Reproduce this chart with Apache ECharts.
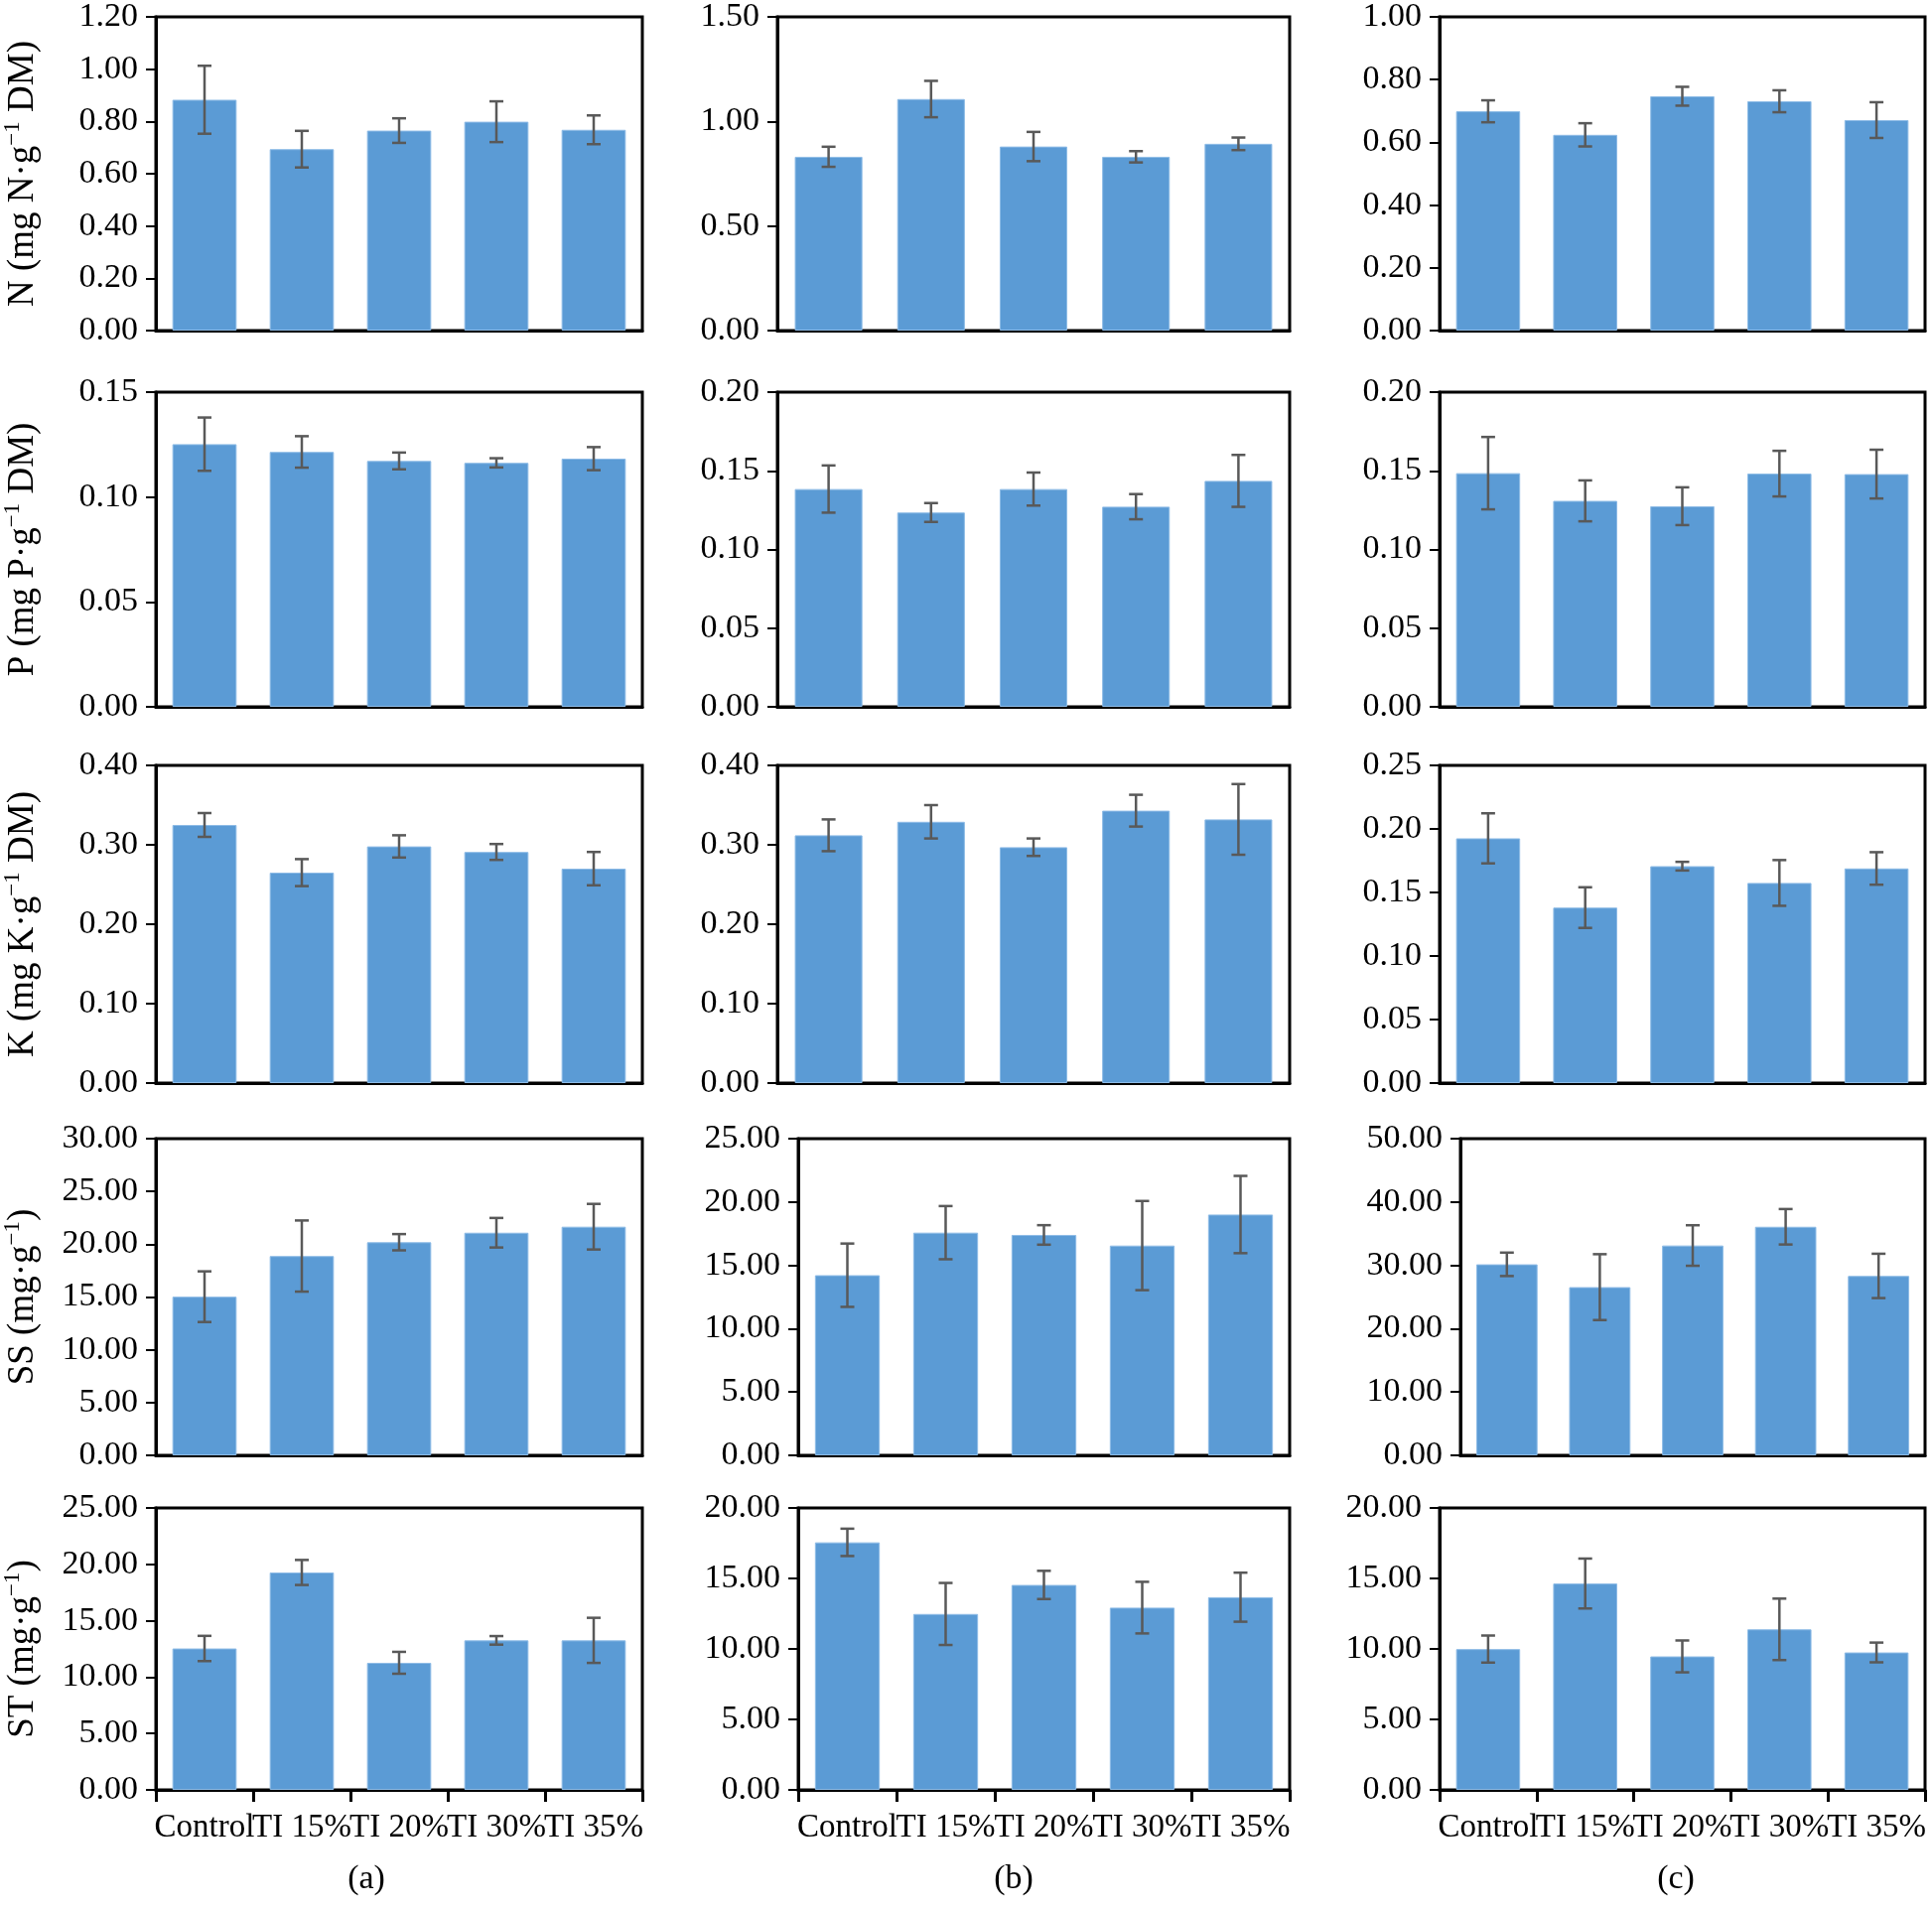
<!DOCTYPE html>
<html>
<head>
<meta charset="utf-8">
<script src="https://cdn.jsdelivr.net/npm/echarts@6/dist/echarts.min.js"></script>
<style>
  html, body { margin: 0; padding: 0; background: #fff; }
  #main { width: 1946px; height: 1926px; }
</style>
</head>
<body>
<div id="main"></div>
<script>
// treatments
const categories = ['Control', 'TI 15%', 'TI 20%', 'TI 30%', 'TI 35%'];

// (a)
const nMeanA = [0.883, 0.694, 0.765, 0.799, 0.768];
const nErrA = [0.130, 0.070, 0.047, 0.078, 0.055];
const pMeanA = [0.1252, 0.1215, 0.1172, 0.1163, 0.1183];
const pErrA = [0.0127, 0.0075, 0.0040, 0.0022, 0.0055];
const kMeanA = [0.325, 0.265, 0.298, 0.291, 0.270];
const kErrA = [0.015, 0.017, 0.014, 0.010, 0.021];
const ssMeanA = [15.03, 18.88, 20.19, 21.09, 21.66];
const ssErrA = [2.40, 3.37, 0.77, 1.40, 2.16];
const stMeanA = [12.54, 19.28, 11.27, 13.26, 13.26];
const stErrA = [1.12, 1.11, 0.97, 0.38, 2.00];

// (b)
const nMeanB = [0.831, 1.107, 0.880, 0.831, 0.893];
const nErrB = [0.048, 0.087, 0.070, 0.027, 0.030];
const pMeanB = [0.1384, 0.1235, 0.1384, 0.1272, 0.1436];
const pErrB = [0.0150, 0.0060, 0.0105, 0.0080, 0.0165];
const kMeanB = [0.312, 0.329, 0.297, 0.343, 0.332];
const kErrB = [0.020, 0.021, 0.011, 0.020, 0.0445];
const ssMeanB = [14.22, 17.58, 17.40, 16.56, 19.01];
const ssErrB = [2.50, 2.10, 0.77, 3.52, 3.05];
const stMeanB = [17.56, 12.48, 14.54, 12.93, 13.67];
const stErrB = [0.97, 2.20, 1.00, 1.83, 1.74];

// (c)
const nMeanC = [0.699, 0.624, 0.747, 0.731, 0.671];
const nErrC = [0.035, 0.037, 0.030, 0.035, 0.057];
const pMeanC = [0.1485, 0.1309, 0.1275, 0.1482, 0.1479];
const pErrC = [0.0230, 0.0130, 0.0120, 0.0145, 0.0155];
const kMeanC = [0.1926, 0.1381, 0.1707, 0.1575, 0.1689];
const kErrC = [0.0197, 0.0160, 0.0034, 0.0180, 0.0128];
const ssMeanC = [30.16, 26.56, 33.13, 36.09, 28.33];
const ssErrC = [1.85, 5.20, 3.20, 2.80, 3.50];
const stMeanC = [9.99, 14.64, 9.47, 11.39, 9.75];
const stErrC = [0.96, 1.77, 1.13, 2.18, 0.70];

// y axis ranges, per row: [a, b, c]
const yMax = [[1.2, 1.5, 1.0], [0.15, 0.2, 0.2], [0.4, 0.4, 0.25], [30, 25, 50], [25, 20, 20]];
const yStep = [[0.2, 0.5, 0.2], [0.05, 0.05, 0.05], [0.1, 0.1, 0.05], [5, 5, 10], [5, 5, 5]];

const yNames = [
  ['N (mg N·g', ' DM)'],
  ['P (mg P·g', ' DM)'],
  ['K (mg K·g', ' DM)'],
  ['SS (mg·g', ')'],
  ['ST (mg·g', ')']
];
const panelLabels = ['(a)', '(b)', '(c)'];

const means = [
  [nMeanA, nMeanB, nMeanC],
  [pMeanA, pMeanB, pMeanC],
  [kMeanA, kMeanB, kMeanC],
  [ssMeanA, ssMeanB, ssMeanC],
  [stMeanA, stMeanB, stMeanC]
];
const errs = [
  [nErrA, nErrB, nErrC],
  [pErrA, pErrB, pErrC],
  [kErrA, kErrB, kErrC],
  [ssErrA, ssErrB, ssErrC],
  [stErrA, stErrB, stErrC]
];

// layout (px)
const rowTop = [14, 395, 771, 1147, 1519];
const rowBottom = [333, 712, 1091, 1466, 1803];
const colLeft = [
  [155, 783, 1450],
  [155, 783, 1450],
  [155, 783, 1450],
  [155, 804, 1471],
  [155, 804, 1450]
];
const colRight = [647, 1299, 1939];
const labelX = [369, 1021, 1688];

const FONT = 'Liberation Serif';
const BLUE = '#5B9BD5';
const ERR = '#595959';

const grids = [], xAxes = [], yAxes = [], series = [];
let idx = 0;
for (let r = 0; r < 5; r++) {
  for (let c = 0; c < 3; c++) {
    const last = r === 4;
    grids.push({
      left: colLeft[r][c], top: rowTop[r],
      width: colRight[c] - colLeft[r][c], height: rowBottom[r] - rowTop[r],
      show: true, borderColor: '#000', borderWidth: 3, backgroundColor: 'transparent'
    });
    xAxes.push({
      type: 'category', gridIndex: idx, data: categories,
      axisLine: { lineStyle: { color: '#000', width: 3 } },
      axisTick: { show: last, length: 12, lineStyle: { color: '#000', width: 3 } },
      axisLabel: {
        show: last, interval: 0, margin: 22, color: '#000',
        fontFamily: FONT, fontSize: 33
      },
      splitLine: { show: false }
    });
    const y = {
      type: 'value', gridIndex: idx, min: 0, max: yMax[r][c], interval: yStep[r][c],
      axisLine: { show: true, lineStyle: { color: '#000', width: 3 } },
      axisTick: { show: true, length: 10, lineStyle: { color: '#000', width: 2 } },
      axisLabel: {
        margin: 18, color: '#000', fontFamily: FONT, fontSize: 34,
        formatter: v => v.toFixed(2)
      },
      splitLine: { show: false }
    };
    if (c === 0) {
      y.name = '{t|' + yNames[r][0] + '}{s|−1}{t|' + yNames[r][1] + '}';
      y.nameLocation = 'middle';
      y.nameGap = 112;
      y.nameTextStyle = {
        color: '#000',
        rich: {
          t: { fontFamily: FONT, fontSize: 37, color: '#000', lineHeight: 44 },
          s: { fontFamily: FONT, fontSize: 23, color: '#000', verticalAlign: 'top', lineHeight: 28 }
        }
      };
    }
    yAxes.push(y);

    series.push({
      type: 'bar', xAxisIndex: idx, yAxisIndex: idx,
      data: means[r][c], barWidth: '66%',
      itemStyle: { color: BLUE, borderColor: '#8DBBE6', borderWidth: 1 }, silent: true
    });
    series.push({
      type: 'custom', xAxisIndex: idx, yAxisIndex: idx, z: 5, silent: true,
      data: means[r][c].map((m, i) => [i, m, errs[r][c][i]]),
      renderItem: function (params, api) {
        const x = api.value(0), m = api.value(1), e = api.value(2);
        const hi = api.coord([x, m + e]);
        const lo = api.coord([x, m - e]);
        const cap = 7;
        const st = { stroke: ERR, lineWidth: 2.5 };
        return {
          type: 'group',
          children: [
            { type: 'line', shape: { x1: hi[0], y1: hi[1], x2: lo[0], y2: lo[1] }, style: st },
            { type: 'line', shape: { x1: hi[0] - cap, y1: hi[1], x2: hi[0] + cap, y2: hi[1] }, style: st },
            { type: 'line', shape: { x1: lo[0] - cap, y1: lo[1], x2: lo[0] + cap, y2: lo[1] }, style: st }
          ]
        };
      }
    });
    idx++;
  }
}

const chart = echarts.init(document.getElementById('main'));
chart.setOption({
  animation: false,
  backgroundColor: '#fff',
  grid: grids,
  xAxis: xAxes,
  yAxis: yAxes,
  series: series,
  graphic: panelLabels.map((t, i) => ({
    type: 'text', x: labelX[i], y: 1893,
    style: {
      text: t, fontFamily: FONT, fontSize: 34, fill: '#000',
      textAlign: 'center', textVerticalAlign: 'middle'
    }
  }))
});
</script>
</body>
</html>
